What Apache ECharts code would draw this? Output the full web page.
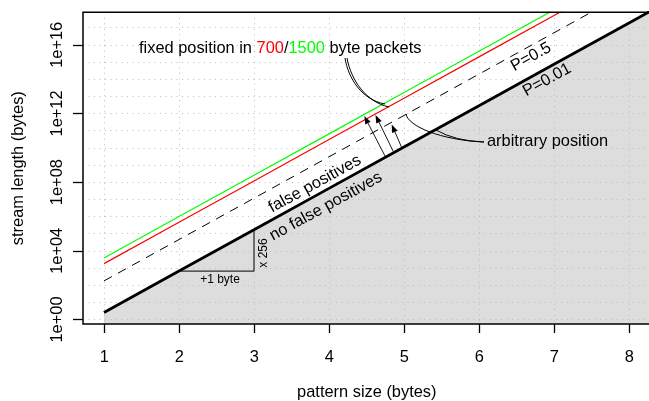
<!DOCTYPE html>
<html>
<head>
<meta charset="utf-8">
<script src="https://cdn.jsdelivr.net/npm/echarts@6/dist/echarts.min.js"></script>
<style>
html,body{margin:0;padding:0;background:#fff;}
#chart{width:649px;height:401px;}
</style>
</head>
<body>
<div id="chart"></div>
<script>
// pattern size (bytes)
const patternSize = [1, 2, 3, 4, 5, 6, 7, 8, 9];
// stream length (bytes)
const lenP001 = [2.57, 6.59e2, 1.69e5, 4.32e7, 1.11e10, 2.83e12, 7.24e14, 1.85e17, 4.74e19];
const lenP05  = [1.77e2, 4.54e4, 1.16e7, 2.98e9, 7.62e11, 1.95e14, 4.99e16, 1.28e19, 3.27e21];
const len700  = [1.79e3, 4.59e5, 1.17e8, 3.01e10, 7.70e12, 1.97e15, 5.04e17, 1.29e20, 3.30e22];
const len1500 = [3.84e3, 9.83e5, 2.52e8, 6.44e10, 1.65e13, 4.22e15, 1.08e18, 2.77e20, 7.08e22];
// tick labels
const xTickLabels = ['1', '2', '3', '4', '5', '6', '7', '8'];
const yTickLabels = ['1e+00', '1e+04', '1e+08', '1e+12', '1e+16'];

const FONT = '"Liberation Sans", Arial, Helvetica, sans-serif';
const FS = 16.4;
const toPts = arr => patternSize.map((x, i) => [x, Math.log10(arr[i])]);

const chart = echarts.init(document.getElementById('chart'), null, {renderer: 'canvas'});

function arrow(x1, y1, x2, y2) {
  const L = 8, W = 3;
  const dx = x2 - x1, dy = y2 - y1, d = Math.hypot(dx, dy);
  const ux = dx / d, uy = dy / d;
  const bx = x2 - ux * L, by = y2 - uy * L;
  return [
    {type: 'line', shape: {x1, y1, x2: bx, y2: by}, style: {stroke: '#000', lineWidth: 0.9}, z: 20},
    {type: 'polygon', shape: {points: [[x2, y2], [bx - uy * W, by + ux * W], [bx + uy * W, by - ux * W]]},
     style: {fill: '#000'}, z: 20}
  ];
}
function txt(x, y, text, size, rot, align) {
  return {type: 'text', x, y, rotation: rot || 0, z: 20,
    style: {text, font: size + 'px ' + FONT, fill: '#000', align: align || 'center', verticalAlign: 'middle'}};
}
function curve(shape) {
  return {type: 'bezierCurve', shape, style: {stroke: '#000', lineWidth: 1, fill: null}, z: 20};
}

const ang = Math.atan(0.551);
const triangle = [[patternSize[1], Math.log10(lenP001[1])], [patternSize[2], Math.log10(lenP001[1])], [patternSize[2], Math.log10(lenP001[2])]];
const gridLine = {color: '#bdbdbd', width: 1, type: [1, 4.5]};
const noBounds = {containLabel: false, outerBoundsMode: 'none'};

const option = {
  animation: false,
  grid: [
    Object.assign({left: 83, right: -1, top: 12.3, bottom: 77, show: true, borderColor: '#000', borderWidth: 1.5, backgroundColor: 'transparent', z: 10}, noBounds),
    Object.assign({left: 104.3, right: 19.7, top: 12.3, bottom: 77}, noBounds),
    Object.assign({left: 83, right: -1, top: 319.5 - 17 * 17.17, bottom: 401 - 319.5}, noBounds),
    Object.assign({left: 83, right: -1, top: 319.5 - 16 * 17.17, bottom: 401 - 319.5}, noBounds)
  ],
  xAxis: [
    {gridIndex: 0, type: 'value', min: 0.72, max: 8.28, show: false},
    {gridIndex: 1, type: 'value', min: 1, max: 8, interval: 1, z: 2,
     axisLine: {show: false},
     axisTick: {show: true, inside: false, length: 9, lineStyle: {color: '#000', width: 1.3}},
     axisLabel: {show: true, color: '#000', fontSize: FS, fontFamily: FONT, margin: 25,
                 formatter: v => xTickLabels[v - 1]},
     splitLine: {show: true, lineStyle: gridLine},
     name: 'pattern size (bytes)', nameLocation: 'middle', nameGap: 60,
     nameTextStyle: {color: '#000', fontSize: FS, fontFamily: FONT}},
    {gridIndex: 2, type: 'value', min: 0, max: 1, show: false},
    {gridIndex: 3, type: 'value', min: 0, max: 1, show: false}
  ],
  yAxis: [
    {gridIndex: 0, type: 'value', min: -0.262, max: 17.89,
     axisLine: {show: false}, axisTick: {show: false}, axisLabel: {show: false}, splitLine: {show: false},
     name: 'stream length (bytes)', nameLocation: 'middle', nameGap: 57,
     nameTextStyle: {color: '#000', fontSize: FS, fontFamily: FONT}},
    {gridIndex: 1, type: 'value', min: 0, max: 1, show: false},
    {gridIndex: 2, type: 'value', min: 0, max: 17, interval: 1, z: 2,
     axisLine: {show: false}, axisTick: {show: false}, axisLabel: {show: false},
     splitLine: {show: true, lineStyle: gridLine}},
    {gridIndex: 3, type: 'value', min: 0, max: 16, interval: 4,
     axisLine: {show: false},
     axisTick: {show: true, inside: false, length: 10, lineStyle: {color: '#000', width: 1.3}},
     axisLabel: {show: true, rotate: 90, color: '#000', fontSize: FS, fontFamily: FONT, margin: 18,
                 formatter: v => yTickLabels[v / 4]},
     splitLine: {show: false}}
  ],
  series: [
    {type: 'line', xAxisIndex: 0, yAxisIndex: 0, data: toPts(lenP001), symbol: 'none', z: 1,
     lineStyle: {width: 0}, areaStyle: {color: '#dddddd', opacity: 1, origin: 'start'}},
    {type: 'line', xAxisIndex: 0, yAxisIndex: 0, data: toPts(lenP001), symbol: 'none', z: 4,
     lineStyle: {color: '#000', width: 2.8}},
    {type: 'line', xAxisIndex: 0, yAxisIndex: 0, data: toPts(lenP05), symbol: 'none', z: 4,
     lineStyle: {color: '#000', width: 1, type: [9, 7]}},
    {type: 'line', xAxisIndex: 0, yAxisIndex: 0, data: toPts(len700), symbol: 'none', z: 4,
     lineStyle: {color: '#ff0000', width: 1.2}},
    {type: 'line', xAxisIndex: 0, yAxisIndex: 0, data: toPts(len1500), symbol: 'none', z: 4,
     lineStyle: {color: '#00ff00', width: 1.2}},
    {type: 'line', xAxisIndex: 0, yAxisIndex: 0, data: triangle, symbol: 'none', z: 4,
     lineStyle: {color: '#000', width: 1}}
  ],
  graphic: [
    {type: 'text', x: 139, y: 48, z: 20,
     style: {text: '{a|fixed position in }{r|700}{a|/}{g|1500}{a| byte packets}',
             font: FS + 'px ' + FONT, align: 'left', verticalAlign: 'middle',
             rich: {a: {fill: '#000', font: FS + 'px ' + FONT}, r: {fill: '#ff0000', font: FS + 'px ' + FONT}, g: {fill: '#00ff00', font: FS + 'px ' + FONT}}}},
    txt(487, 141, 'arbitrary position', FS, 0, 'left'),
    txt(315, 184, 'false positives', FS, ang),
    txt(326, 206.5, 'no false positives', FS, ang),
    txt(531, 57, 'P=0.5', FS, ang),
    txt(547, 80, 'P=0.01', FS, ang),
    txt(220, 280, '+1 byte', 12, 0),
    txt(263.5, 253, 'x 256', 12, Math.PI / 2),
    curve({x1: 345, y1: 58, cpx1: 348, cpy1: 78, cpx2: 362, cpy2: 100, x2: 385, y2: 104}),
    curve({x1: 347, y1: 58, cpx1: 351, cpy1: 80, cpx2: 366, cpy2: 102, x2: 389, y2: 107}),
    curve({x1: 406, y1: 114, cpx1: 408, cpy1: 126, cpx2: 440, cpy2: 140, x2: 484, y2: 142}),
    curve({x1: 436, y1: 130, cpx1: 455, cpy1: 141, x2: 484, y2: 142}),
    ...arrow(385, 156, 364.3, 116),
    ...arrow(393.3, 151.5, 375.5, 115),
    ...arrow(401.7, 147.5, 391.7, 124.5)
  ]
};
chart.setOption(option);
</script>
</body>
</html>
